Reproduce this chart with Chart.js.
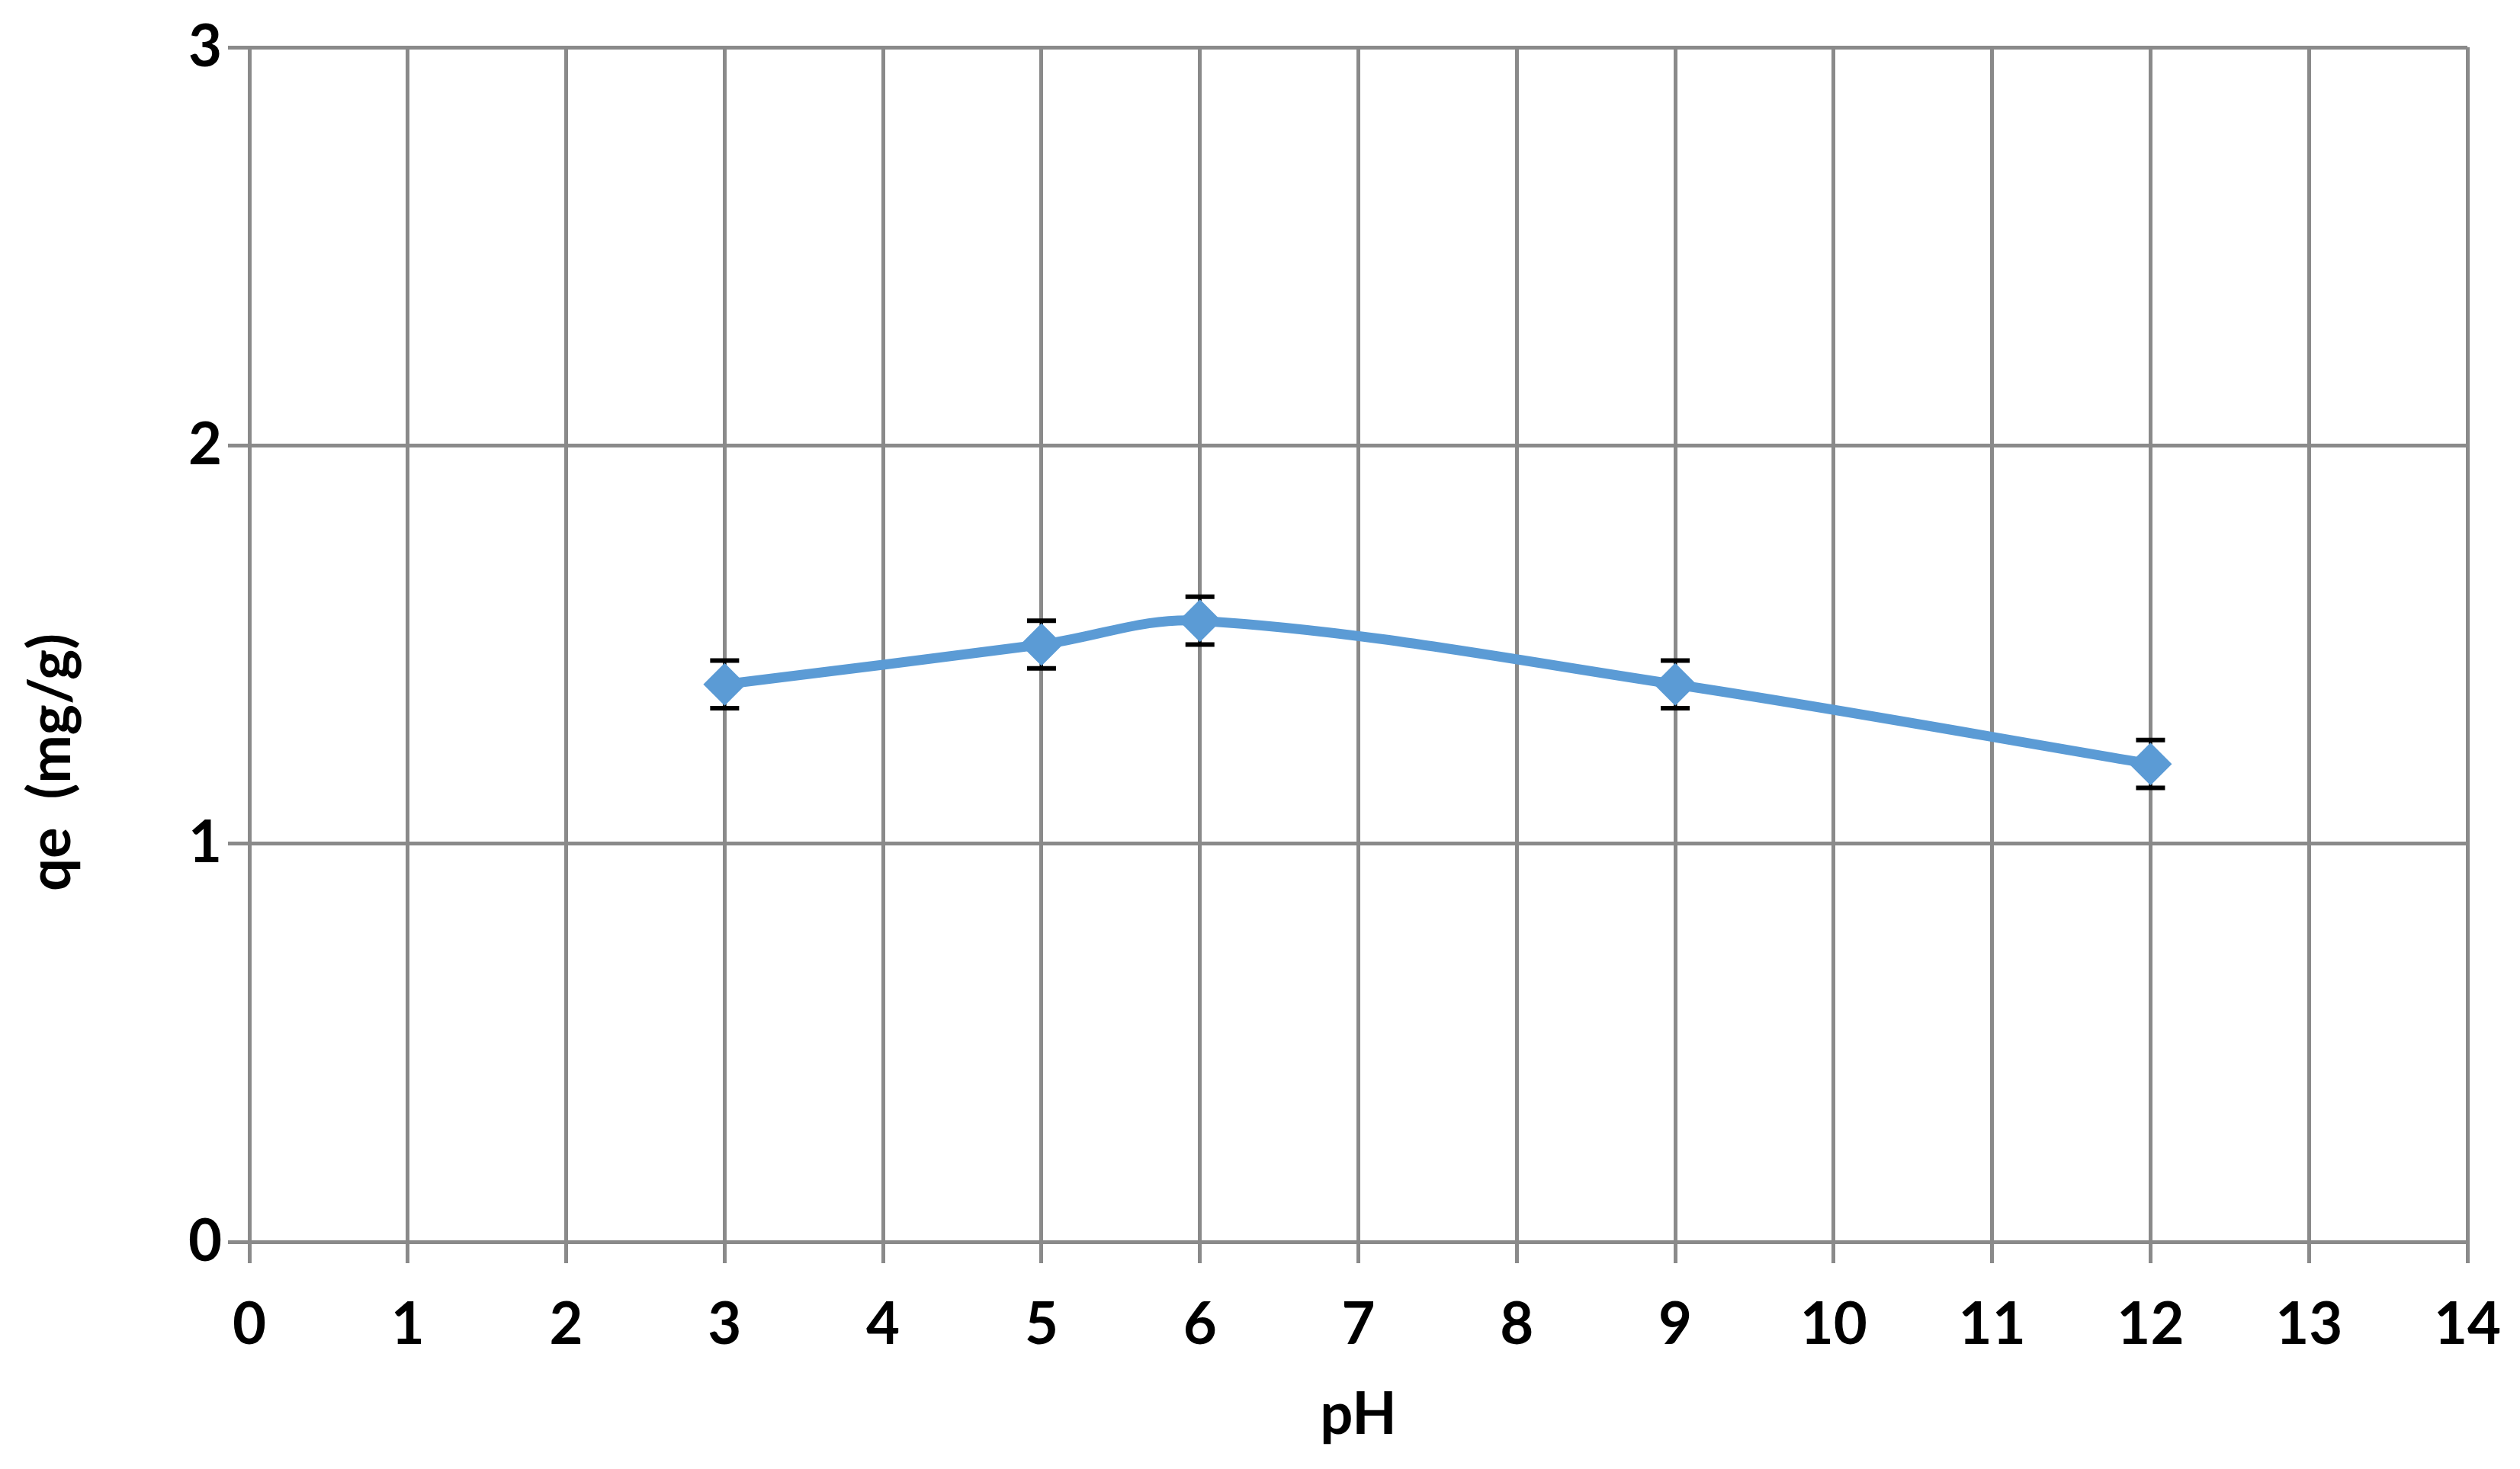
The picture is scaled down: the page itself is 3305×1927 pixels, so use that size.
<!DOCTYPE html>
<html>
<head>
<meta charset="UTF-8">
<title>qe vs pH</title>
<script src="https://cdn.jsdelivr.net/npm/chart.js"></script>
<style>
  html, body { margin: 0; padding: 0; background: #fff; }
</style>
</head>
<body>
<canvas id="phChart" width="3305" height="1927"></canvas>
<script>
// data
const phValues = [3, 5, 6, 9, 12];
const qeValues = [1.4, 1.5, 1.56, 1.4, 1.2];
const qeErrors = [0.06, 0.06, 0.06, 0.06, 0.06];
const xTicks = [0, 1, 2, 3, 4, 5, 6, 7, 8, 9, 10, 11, 12, 13, 14];
const yTicks = [0, 1, 2, 3];
const xTitle = 'pH';
const yTitle = 'qe  (mg/g)';

const FONT = 'Lato, "Open Sans", sans-serif';
const gridColor = '#8a8a8a';

// error bars, drawn under the line and the diamonds
const errorBars = {
    id: 'errorBars',
    beforeDatasetsDraw(chart) {
        const ctx = chart.ctx;
        const xs = chart.scales.x, ys = chart.scales.y;
        ctx.save();
        ctx.strokeStyle = '#000';
        phValues.forEach((ph, i) => {
            const px = xs.getPixelForValue(ph);
            const top = ys.getPixelForValue(qeValues[i] + qeErrors[i]);
            const bot = ys.getPixelForValue(qeValues[i] - qeErrors[i]);
            ctx.lineWidth = 4;
            ctx.beginPath();
            ctx.moveTo(px, top);
            ctx.lineTo(px, bot);
            ctx.stroke();
            ctx.lineWidth = 6;
            ctx.beginPath();
            ctx.moveTo(px - 19, top);
            ctx.lineTo(px + 19, top);
            ctx.moveTo(px - 19, bot);
            ctx.lineTo(px + 19, bot);
            ctx.stroke();
        });
        ctx.restore();
    }
};

// axis titles (the y title sits below the middle of the axis in the original)
const axisTitles = {
    id: 'axisTitles',
    afterDraw(chart) {
        const ctx = chart.ctx;
        const area = chart.chartArea;
        ctx.save();
        ctx.fillStyle = '#000';
        ctx.font = 'bold 76px ' + FONT;
        ctx.textAlign = 'center';
        ctx.textBaseline = 'alphabetic';
        ctx.fillText(xTitle, (area.left + area.right) / 2, 1881);
        ctx.translate(92, 1000);
        ctx.rotate(-Math.PI / 2);
        ctx.fillText(yTitle, 0, 0);
        ctx.restore();
    }
};

new Chart(document.getElementById('phChart'), {
    type: 'line',
    data: {
        datasets: [{
            data: phValues.map((ph, i) => ({ x: ph, y: qeValues[i] })),
            borderColor: '#5b9bd5',
            backgroundColor: '#5b9bd5',
            borderWidth: 13,
            tension: 0.35,
            pointStyle: 'rectRot',
            pointRadius: 28,
            pointHoverRadius: 28,
            pointBorderWidth: 0,
            pointBackgroundColor: '#5b9bd5'
        }]
    },
    options: {
        responsive: false,
        devicePixelRatio: 1,
        animation: false,
        layout: { padding: { left: 0, top: 62, right: 69, bottom: 0 } },
        plugins: {
            legend: { display: false },
            tooltip: { enabled: false }
        },
        scales: {
            x: {
                type: 'linear',
                min: 0,
                max: 14,
                afterBuildTicks: (scale) => { scale.ticks = xTicks.map(v => ({ value: v })); },
                afterFit: (scale) => {
                    scale.height = 298;
                    scale.paddingLeft = 0;
                    scale.paddingRight = 0;
                },
                grid: { color: gridColor, lineWidth: 5, tickLength: 28, drawTicks: true },
                border: { color: gridColor, width: 5 },
                ticks: {
                    padding: 36,
                    color: '#000',
                    font: { family: FONT, size: 76, weight: 'bold' },
                    maxRotation: 0,
                    autoSkip: false
                }
            },
            y: {
                min: 0,
                max: 3,
                afterBuildTicks: (scale) => { scale.ticks = yTicks.map(v => ({ value: v })); },
                afterFit: (scale) => {
                    scale.width = 327;
                    scale.paddingTop = 0;
                    scale.paddingBottom = 0;
                },
                grid: { color: gridColor, lineWidth: 5, tickLength: 28, drawTicks: true },
                border: { color: gridColor, width: 5 },
                ticks: {
                    padding: 8,
                    color: '#000',
                    font: { family: FONT, size: 76, weight: 'bold' }
                }
            }
        }
    },
    plugins: [errorBars, axisTitles]
});
</script>
</body>
</html>
